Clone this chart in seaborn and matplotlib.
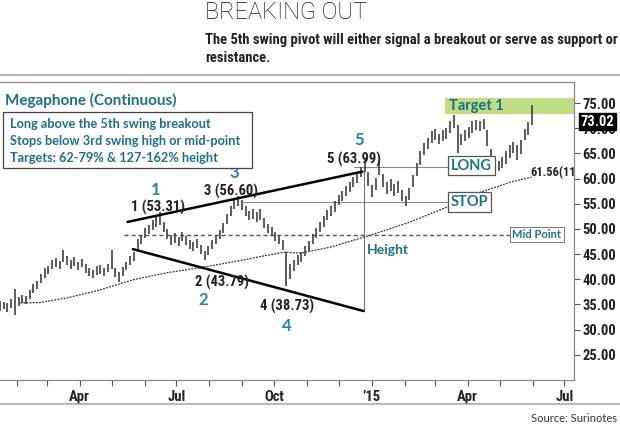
import numpy as np
import pandas as pd
import matplotlib
matplotlib.use("Agg")
import matplotlib.pyplot as plt
import matplotlib.dates as mdates
from matplotlib.lines import Line2D
from matplotlib.patches import Rectangle
import seaborn as sns

# Daily-ish price bars (low / high), one bar every 3.5 days from mid Jan 2014
bar_start = "2014-01-16"
bar_lows = [
    33.8, 34.2, 33.6, 34.4, 33.0, 34.8, 35.2, 35.0, 36.0, 37.2,
    38.0, 39.2, 40.2, 41.0, 42.0, 42.4, 42.0, 43.4, 42.8, 42.0,
    42.6, 41.8, 42.4, 41.2, 40.6, 40.2, 40.8, 41.0, 40.6, 41.4,
    42.0, 40.4, 39.4, 40.6, 41.8, 42.8, 43.6, 45.8, 47.0, 48.2,
    49.0, 49.8, 50.4, 50.8, 49.4, 48.0, 46.8, 47.2, 46.6, 47.6,
    46.8, 46.0, 45.6, 46.2, 45.0, 43.79, 44.8, 46.0, 47.0, 48.0,
    49.2, 51.0, 52.6, 54.0, 54.6, 53.8, 52.6, 51.8, 52.0, 51.4,
    51.8, 50.2, 49.2, 48.6, 47.6, 47.0, 45.8, 38.73, 40.0, 41.6,
    42.8, 43.4, 44.6, 45.6, 47.0, 48.2, 49.4, 50.4, 51.8, 52.6,
    53.4, 54.8, 55.6, 56.6, 57.4, 58.4, 59.2, 60.4, 61.4, 58.6,
    56.4, 57.8, 60.8, 58.4, 57.0, 57.6, 56.6, 57.2, 55.6, 54.6,
    55.8, 58.4, 60.6, 62.8, 64.6, 65.8, 67.0, 67.6, 66.8, 67.4,
    67.8, 69.0, 70.0, 65.0, 66.6, 67.4, 68.0, 69.0, 69.6, 69.4,
    69.8, 66.4, 62.6, 62.0, 61.6, 62.2, 63.0, 64.2, 65.0, 63.8,
    64.8, 67.6, 68.6, 70.6,
]
bar_highs = [
    35.6, 35.4, 35.2, 36.0, 38.0, 36.4, 36.8, 36.6, 37.8, 39.0,
    39.6, 41.0, 42.2, 42.6, 43.8, 44.2, 43.6, 45.8, 44.6, 43.8,
    44.4, 43.4, 44.0, 43.0, 42.2, 41.8, 42.6, 42.8, 42.2, 43.0,
    45.8, 42.2, 41.4, 42.4, 43.4, 44.6, 45.4, 48.0, 48.8, 50.2,
    50.8, 51.8, 52.4, 53.31, 51.4, 50.0, 48.8, 49.2, 48.4, 49.4,
    48.6, 47.8, 47.4, 48.0, 46.8, 45.6, 46.6, 47.8, 48.8, 49.8,
    51.2, 53.0, 54.6, 56.0, 56.6, 55.8, 54.6, 53.6, 54.0, 53.4,
    54.0, 52.2, 51.0, 50.4, 49.4, 48.8, 47.8, 45.4, 43.0, 43.8,
    44.8, 45.4, 46.6, 47.6, 49.0, 50.2, 51.4, 52.6, 53.8, 54.6,
    55.6, 56.8, 57.6, 58.6, 59.4, 60.4, 61.4, 62.4, 63.99, 61.4,
    58.8, 60.2, 63.8, 61.0, 59.4, 60.0, 59.0, 59.6, 57.8, 56.6,
    58.2, 60.8, 63.2, 65.4, 67.0, 68.0, 69.4, 69.8, 68.8, 69.6,
    70.0, 71.4, 72.6, 70.6, 68.8, 69.6, 70.2, 71.4, 71.6, 71.4,
    71.8, 69.6, 65.8, 64.2, 63.6, 64.4, 65.4, 66.6, 67.2, 66.6,
    67.6, 69.8, 71.2, 74.6,
]

# Long moving average
ma_dates = ["2014-02-04", "2014-02-23", "2014-03-20", "2014-04-20", "2014-05-21",
            "2014-06-22", "2014-07-23", "2014-08-24", "2014-09-25", "2014-10-11",
            "2014-10-26", "2014-11-23", "2014-12-31", "2015-02-06", "2015-03-13",
            "2015-04-13", "2015-05-11", "2015-05-31"]
ma_values = [35.3, 35.4, 36.3, 37.9, 39.9, 41.3, 42.3, 43.5, 44.8, 45.4,
             45.2, 46.4, 48.8, 51.4, 54.4, 57.3, 59.3, 60.3]

# Swing pivots
pivot_names = ["1", "2", "3", "4", "5"]
pivot_dates = ["2014-06-15", "2014-07-27", "2014-08-28", "2014-10-12", "2014-12-24"]
pivot_values = [53.31, 43.79, 56.60, 38.73, 63.99]

# Megaphone trend lines
upper_dates = ["2014-05-16", "2014-12-23"]
upper_values = [51.4, 61.4]
lower_dates = ["2014-05-21", "2014-12-24"]
lower_values = [46.0, 33.7]

long_level = 62.4
stop_level = 55.4
mid_level = 48.9
target_low, target_high = 72.8, 76.0
last_price = 73.02
ma_last = 61.56

tick_dates = ["2014-04-01", "2014-07-01", "2014-10-01", "2015-01-01", "2015-04-01", "2015-07-01"]
tick_labels = ["Apr", "Jul", "Oct", "\u201915", "Apr", "Jul"]
y_ticks = [25, 30, 35, 40, 45, 50, 55, 60, 65, 70, 75]

sns.set_theme(style="white")
NARROW = ["Roboto Condensed", "Noto Sans Condensed", "DejaVu Sans Condensed",
          "Liberation Sans Narrow", "Open Sans Condensed", "DejaVu Sans"]
plt.rcParams["font.family"] = ["Lato", "DejaVu Sans"]

TEAL = "#1f6f88"
DARK = "#222222"
D = pd.to_datetime


def narrow(**kw):
    return dict(family=NARROW, fontstretch="condensed", fontweight="bold", **kw)


fig = plt.figure(figsize=(6.2, 4.25), dpi=100)
ax = fig.add_axes([0, 1 - 380 / 425, 574 / 620, (380 - 82) / 425])

bars = pd.DataFrame({
    "date": pd.date_range(bar_start, periods=len(bar_lows), freq="84h"),
    "low": bar_lows,
    "high": bar_highs,
})
ma = pd.DataFrame({"date": D(ma_dates), "value": ma_values})

# target band
ax.fill_between([D("2015-03-11"), D("2015-07-20")], target_low, target_high,
                color="#bedd84", lw=0, zorder=1)
ax.text(D("2015-03-14"), 74.5, "Target 1", color=TEAL, fontsize=10.5,
        fontweight="bold", va="center", zorder=2)

# price bars
ax.vlines(bars["date"], bars["low"], bars["high"], color="#404040", lw=1.2, zorder=3)

# moving average
sns.lineplot(data=ma, x="date", y="value", ax=ax, color="#333333", lw=0.9,
             linestyle=(0, (1.5, 1)), zorder=2)
ax.text(D("2015-05-30"), ma_last - 0.4, f"{ma_last:.2f}(11", fontsize=9,
        color=DARK, va="center", clip_on=True, **narrow())

# trend lines
ax.plot(D(upper_dates), upper_values, color="black", lw=1.8, zorder=4)
ax.plot(D(lower_dates), lower_values, color="black", lw=1.8, zorder=4)

# height line
ax.plot([D("2014-12-24")] * 2, [lower_values[1], 61.6], color="#777777", lw=0.8, zorder=2)
ax.text(D("2014-12-27"), 45.8, "Height", color=TEAL, fontsize=10,
        fontweight="bold", va="center")

# LONG / STOP / Mid Point
box = dict(boxstyle="square,pad=0.2", fc="white", ec="#555555", lw=0.9)
ax.plot([D("2014-12-15"), D("2015-03-14")], [long_level] * 2, color="#888888", lw=0.8, zorder=2)
ax.text(D("2015-03-16"), long_level + 0.2, "LONG", color=TEAL, fontsize=10.5,
        fontweight="bold", va="center", bbox=box, zorder=5)
ax.plot([D("2014-09-02"), D("2015-03-14")], [stop_level] * 2, color="#888888", lw=0.8, zorder=2)
ax.text(D("2015-03-16"), stop_level, "STOP", color=TEAL, fontsize=10.5,
        fontweight="bold", va="center", bbox=box, zorder=5)
ax.plot([D("2014-05-13"), D("2015-05-11")], [mid_level] * 2, color="#555555", lw=1.0,
        linestyle=(0, (3, 2)), zorder=2)
ax.text(D("2015-05-13"), mid_level, "Mid Point", color=TEAL, fontsize=8,
        fontweight="bold", va="center",
        bbox=dict(boxstyle="square,pad=0.2", fc="white", ec="#777777", lw=0.7), zorder=5)

# pivot labels
label_pos = [("2014-06-14", 54.2), ("2014-08-13", 39.3), ("2014-08-21", 57.5),
             ("2014-10-13", 34.7), ("2014-12-15", 63.9)]
digit_pos = [("2014-06-11", 57.7), ("2014-07-26", 35.9), ("2014-08-24", 61.1),
             ("2014-10-13", 30.8), ("2014-12-20", 67.7)]
for name, val, (ld, lv), (dd, dv) in zip(pivot_names, pivot_values, label_pos, digit_pos):
    ax.text(D(ld), lv, f"{name} ({val:.2f})", fontsize=10.5, color=DARK,
            ha="center", va="center", zorder=6, **narrow())
    ax.text(D(dd), dv, name, fontsize=12, fontweight="bold", color="#2a7fa2",
            ha="center", va="center", zorder=6)

# axes styling
ax.set_xlim(D("2014-01-16"), D("2015-07-10"))
ax.set_ylim(20.0, 79.2)
ax.set_xlabel("")
ax.set_ylabel("")
ax.yaxis.tick_right()
ax.set_yticks(y_ticks)
ax.set_yticklabels([f"{v:.2f}" for v in y_ticks])
ax.set_xticks(D(tick_dates))
ax.set_xticklabels(tick_labels)
ax.xaxis.set_minor_locator(mdates.MonthLocator())
ax.tick_params(axis="y", which="major", right=True, length=4, width=0.8,
               color="#555555", pad=2, labelsize=10.5)
ax.tick_params(axis="x", which="both", bottom=True, length=4, width=0.8,
               color="#555555", pad=3, labelsize=10.5)
for lab in ax.get_xticklabels() + ax.get_yticklabels():
    lab.set_family(NARROW)
    lab.set_fontstretch("condensed")
    lab.set_fontweight("bold")
    lab.set_color(DARK)
ax.spines["left"].set_visible(False)
for s in ["top", "right", "bottom"]:
    ax.spines[s].set_color("#888888")
    ax.spines[s].set_linewidth(0.9)

# last price tag
ax.text(1.012, 71.3, f"{last_price:.2f}", transform=ax.get_yaxis_transform(),
        fontsize=10.5, color="white", va="center",
        bbox=dict(boxstyle="square,pad=0.1", fc="black", ec="black"), zorder=7, **narrow())

# header
fig.text(205 / 620, 1 - 12 / 425, "BREAKING OUT", fontsize=17, fontweight="light",
         family=["Roboto", "Lato", "DejaVu Sans"], color="#111111", va="center")
fig.text(205 / 620, 1 - 40 / 425, "The 5th swing pivot will either signal a breakout or serve as support or",
         fontsize=10.5, color=DARK, va="center", **narrow())
fig.text(205 / 620, 1 - 58 / 425, "resistance.", fontsize=10.5, color=DARK,
         va="center", **narrow())
fig.add_artist(Line2D([0, 1], [1 - 75 / 425] * 2, color="#aaaaaa", lw=1.2))

# legend block
fig.text(5 / 620, 1 - 100 / 425, "Megaphone (Continuous)", fontsize=11,
         fontweight="bold", color=TEAL, va="center")
fig.add_artist(Rectangle((3 / 620, 1 - 168 / 425), 249 / 620, 56 / 425,
                         transform=fig.transFigure, fill=True, fc="white",
                         ec="#444444", lw=0.9, zorder=5))
for i, line in enumerate(["Long above the 5th swing breakout",
                          "Stops below 3rd swing high or mid-point",
                          "Targets: 62-79% & 127-162% height"]):
    fig.text(10 / 620, 1 - (124 + 17 * i) / 425, line, fontsize=9.2, fontweight="bold",
             color=TEAL, va="center", zorder=6)

# footer
fig.add_artist(Line2D([0, 1], [1 - 404 / 425] * 2, color="#aaaaaa", lw=1.2))
fig.text(617 / 620, 1 - 418 / 425, "Source: Surinotes", fontsize=8, color="#333333",
         ha="right", va="center")

fig.savefig("out.png", dpi=100)
